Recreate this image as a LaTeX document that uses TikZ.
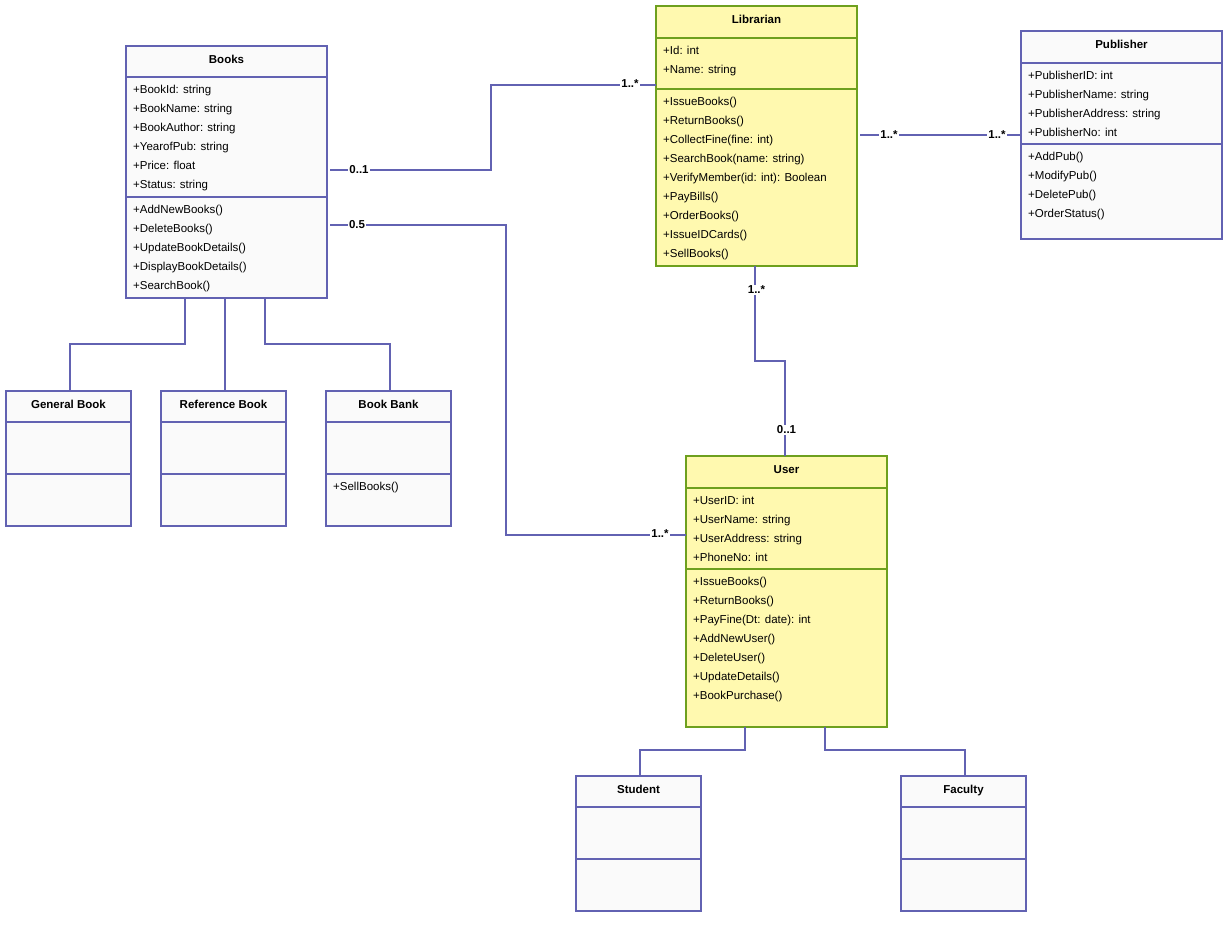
\documentclass[tikz,border=0pt]{standalone}
\usepackage{fontspec}
\setmainfont{Liberation Sans}

\definecolor{umlblue}{RGB}{98,98,178}
\definecolor{umlgreen}{RGB}{110,160,30}
\definecolor{umlyellow}{RGB}{255,249,175}
\definecolor{umlwhite}{RGB}{250,250,250}

% the two separator lines of a class box
\newcommand{\umlsplit}[4]{%
	\draw[line width=2pt, #2] ([yshift=-#3pt]#1.north west) -- ([yshift=-#3pt]#1.north east);
	\draw[line width=2pt, #2] ([yshift=-#4pt]#1.north west) -- ([yshift=-#4pt]#1.north east);
}
% one row per member, 19pt apart
\newcommand{\umlmembers}[3]{%
	\foreach \m [count=\i] in {#3}
		\node[member] at ([xshift=7pt, yshift={-#2-16-19*(\i-1)}]#1.north west) {\m};
}

\begin{document}
\begin{tikzpicture}[x=1pt, y=-1pt,
		classbox/.style={
		% The shape:
		rectangle,
		anchor=north west,
		inner sep=0pt,
		outer sep=0pt,
		% The border:
		line width=2pt,
		draw=umlblue,
		% The filling:
		fill=umlwhite
		},
		yellowbox/.style={
		classbox,
		draw=umlgreen,
		fill=umlyellow
		},
		umltitle/.style={anchor=base, inner sep=0pt, font=\bfseries\fontsize{11.5}{14}\selectfont},
		member/.style={anchor=base west, inner sep=0pt, font=\fontsize{11.5}{14}\selectfont},
		assoc/.style={draw=umlblue, line width=2pt},
		mult/.style={fill=white, inner sep=1pt, font=\bfseries\fontsize{11.5}{14}\selectfont}
	]
	\fill[white] (0,0) rectangle (1230,937);
	\useasboundingbox (0,0) rectangle (1230,937);

	% Books
	\node (books)[classbox, minimum width=201pt, minimum height=252pt] at (126,46) {};
	\umlsplit{books}{umlblue}{31}{151}
	\node[umltitle] at ([yshift=-17pt]books.north) {Books};
	\umlmembers{books}{31}{+BookId: string, +BookName: string, +BookAuthor: string, +YearofPub: string, +Price: float, +Status: string}
	\umlmembers{books}{151}{+AddNewBooks(), +DeleteBooks(), +UpdateBookDetails(), +DisplayBookDetails(), +SearchBook()}

	% Librarian
	\node (librarian)[yellowbox, minimum width=201pt, minimum height=260pt] at (656,6) {};
	\umlsplit{librarian}{umlgreen}{32}{83}
	\node[umltitle] at ([yshift=-17pt]librarian.north) {Librarian};
	\umlmembers{librarian}{32}{+Id: int, +Name: string}
	\umlmembers{librarian}{83}{+IssueBooks(), +ReturnBooks(), +CollectFine(fine: int), +SearchBook(name: string), +VerifyMember(id: int): Boolean, +PayBills(), +OrderBooks(), +IssueIDCards(), +SellBooks()}

	% Publisher
	\node (publisher)[classbox, minimum width=201pt, minimum height=208pt] at (1021,31) {};
	\umlsplit{publisher}{umlblue}{32}{113}
	\node[umltitle] at ([yshift=-17pt]publisher.north) {Publisher};
	\umlmembers{publisher}{32}{+PublisherID: int, +PublisherName: string, +PublisherAddress: string, +PublisherNo: int}
	\umlmembers{publisher}{113}{+AddPub(), +ModifyPub(), +DeletePub(), +OrderStatus()}

	% User
	\node (user)[yellowbox, minimum width=201pt, minimum height=271pt] at (686,456) {};
	\umlsplit{user}{umlgreen}{32}{113}
	\node[umltitle] at ([yshift=-17pt]user.north) {User};
	\umlmembers{user}{32}{+UserID: int, +UserName: string, +UserAddress: string, +PhoneNo: int}
	\umlmembers{user}{113}{+IssueBooks(), +ReturnBooks(), +PayFine(Dt: date): int, +AddNewUser(), +DeleteUser(), +UpdateDetails(), +BookPurchase()}

	% subclasses
	\foreach \n/\x/\y/\t in {genbook/6/391/General Book, refbook/161/391/Reference Book, bookbank/326/391/Book Bank, student/576/776/Student, faculty/901/776/Faculty} {
		\node (\n)[classbox, minimum width=125pt, minimum height=135pt] at (\x,\y) {};
		\umlsplit{\n}{umlblue}{31}{83}
		\node[umltitle] at ([yshift=-17pt]\n.north) {\t};
	}
	\umlmembers{bookbank}{83}{+SellBooks()}

	% associations
	\draw[assoc] ([xshift=3pt, yshift=-124pt]books.north east) -- ++(161,0) |- ([yshift=-79pt]librarian.north west);
	\draw[assoc] ([xshift=3pt, yshift=-179pt]books.north east) -- ++(176,0) |- ([yshift=-79pt]user.north west);
	\draw[assoc] ([xshift=3pt, yshift=-129pt]librarian.north east) -- ([yshift=-104pt]publisher.north west);
	\draw[assoc] ([xshift=99pt]librarian.south west) -- ++(0,95) -| ([xshift=99pt]user.north west);

	% inheritance
	\draw[assoc] ([xshift=59pt]books.south west) -- ++(0,46) -| ([xshift=64pt]genbook.north west);
	\draw[assoc] ([xshift=99pt]books.south west) -- ([xshift=64pt]refbook.north west);
	\draw[assoc] ([xshift=139pt]books.south west) -- ++(0,46) -| ([xshift=64pt]bookbank.north west);
	\draw[assoc] ([xshift=59pt]user.south west) -- ++(0,23) -| ([xshift=64pt]student.north west);
	\draw[assoc] ([xshift=139pt]user.south west) -- ++(0,23) -| ([xshift=64pt]faculty.north west);

	% multiplicities
	\node[mult] at ([xshift=32pt, yshift=-124pt]books.north east) {0..1};
	\node[mult] at ([xshift=-26pt, yshift=-78pt]librarian.north west) {1..*};
	\node[mult] at ([xshift=30pt, yshift=-179pt]books.north east) {0.5};
	\node[mult] at ([xshift=-26pt, yshift=-78pt]user.north west) {1..*};
	\node[mult] at ([xshift=32pt, yshift=-129pt]librarian.north east) {1..*};
	\node[mult] at ([xshift=-24pt, yshift=-104pt]publisher.north west) {1..*};
	\node[mult] at ([yshift=-24pt]librarian.south) {1..*};
	\node[mult] at ([yshift=26pt]user.north) {0..1};
\end{tikzpicture}
\end{document}
